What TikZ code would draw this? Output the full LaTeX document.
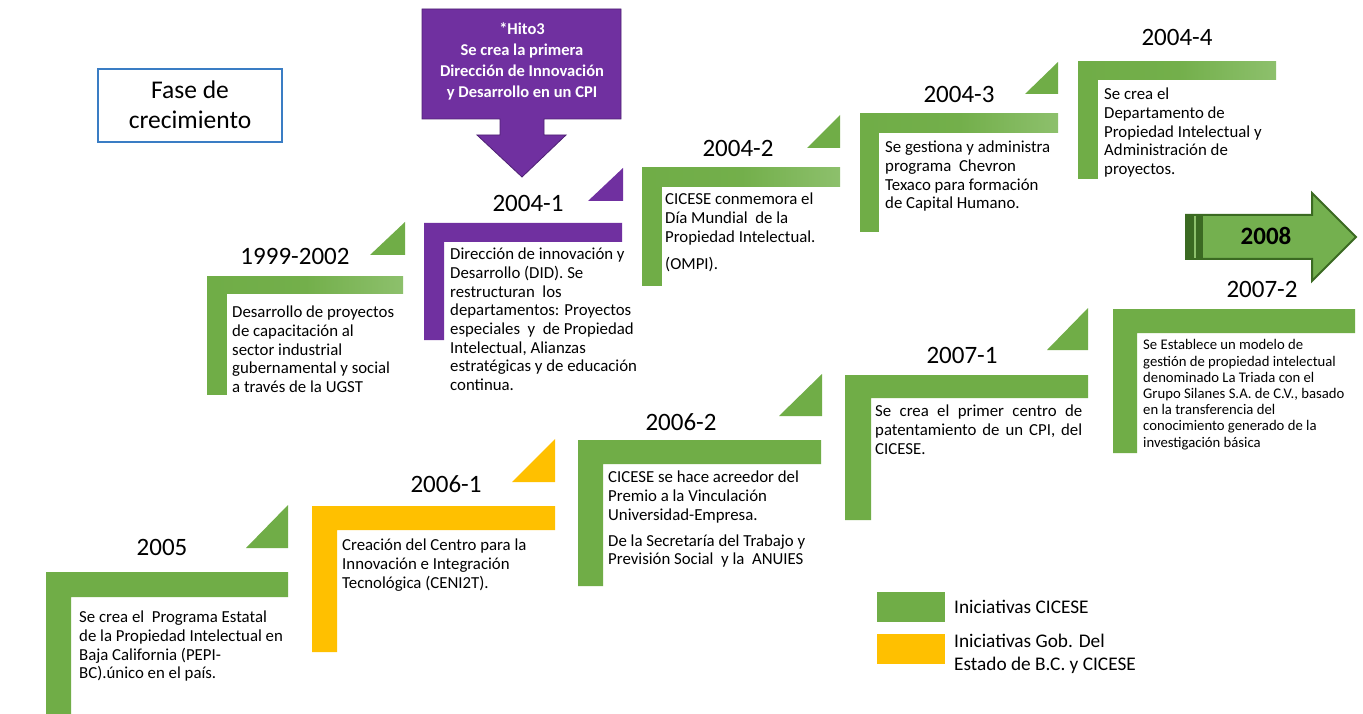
\documentclass[tikz,border=0pt]{standalone}
\usepackage{fontspec}
\setmainfont{Carlito}
\definecolor{grn}{HTML}{70AD47}
\definecolor{grnL}{HTML}{8DC06C}
\definecolor{grnD}{HTML}{3B6A22}
\definecolor{arrfill}{HTML}{74B04F}
\definecolor{purp}{HTML}{7030A0}
\definecolor{purpD}{HTML}{4E2173}
\definecolor{yel}{HTML}{FFC000}
\definecolor{fasebl}{HTML}{3A7DC4}
\newcommand\tstrut{\rule{0pt}{0.8em}}
\newcommand\lbshape[7]{\fill[#1] (#2,#3) -- (#4,#3) -- (#4,#5) -- (#6,#5) -- (#6,#7) -- (#2,#7) -- cycle;}
\newcommand\lbgrad[6]{%
  \fill[grn] (#1,#4) rectangle (#5,#6);
  \fill[left color=grn, right color=grnL, middle color=grn!90!grnL] (#1,#2) rectangle (#3,#4);}
\tikzset{
  yr/.style={font=\fontsize{25}{30}\selectfont, anchor=base, inner sep=0pt},
  body/.style={font=\fontsize{16.8}{18.7}\selectfont, anchor=north west, inner sep=0pt, align=left},
  smallbody/.style={font=\fontsize{14.7}{16.2}\selectfont, anchor=north west, inner sep=0pt, align=left},
  hito/.style={font=\fontsize{16.5}{21}\selectfont\bfseries, text=white, anchor=north, inner sep=0pt, align=center},
  legtxt/.style={font=\fontsize{19.3}{23}\selectfont, inner sep=0pt, align=left},
}
\begin{document}
\begin{tikzpicture}[x=1pt,y=-1pt]
\useasboundingbox (0,0) rectangle (1363,714);
\fill[white] (0,0) rectangle (1363,714);

% Fase de crecimiento
\draw[fasebl, line width=2.5pt] (98,69) rectangle (282,142);
\node[font=\fontsize{25.5}{30}\selectfont, anchor=north, inner sep=0pt, align=center] (fase) at (190,77.6) {\tstrut Fase de\\crecimiento};

% Hito callout
\fill[purp, draw=purpD, line width=0.8pt] (422,9) -- (621,9) -- (621,119) -- (544,119) -- (544,135) -- (566,135) -- (522,177) -- (477,135) -- (500,135) -- (500,119) -- (422,119) -- cycle;
\node[hito] (hito) at (522,20.8) {\tstrut *Hito3\\Se crea la primera\\Dirección de Innovación\\y Desarrollo en un CPI};

% triangles
\fill[grn] (370,255) -- (405,255) -- (405,222) -- cycle;
\fill[purp] (588,201) -- (623,201) -- (623,168) -- cycle;
\fill[grn] (807,148) -- (840,148) -- (840,115) -- cycle;
\fill[grn] (1025,94) -- (1058,94) -- (1058,62) -- cycle;
\fill[grn] (246,548) -- (288,548) -- (288,505) -- cycle;
\fill[yel] (512,482) -- (555,482) -- (555,439) -- cycle;
\fill[grn] (779,416) -- (822,416) -- (822,374) -- cycle;
\fill[grn] (1047,350) -- (1088,350) -- (1088,308) -- cycle;

% L shapes upper
\lbgrad{207}{276}{403}{293}{227}{395}
\lbshape{purp}{424}{223}{622}{242}{444}{340}
\lbgrad{642}{168}{840}{187}{662}{286}
\lbgrad{860}{114}{1058}{133}{879}{232}
\lbgrad{1078}{62}{1276}{80}{1098}{179}
% L shapes lower
\lbshape{grn}{46}{572}{288}{597}{71}{714}
\lbshape{yel}{312}{506}{555}{530}{337}{652}
\lbshape{grn}{578}{440}{821}{464}{603}{586}
\lbshape{grn}{845}{375}{1088}{398}{871}{520}
\lbshape{grn}{1113}{309}{1355}{333}{1137}{453}

% 2008 arrow
\fill[arrfill, draw=grnD, line width=2pt, line join=miter] (1186,215) -- (1312,215) -- (1312,193) -- (1356,237) -- (1312,281) -- (1312,259) -- (1186,259) -- cycle;
\fill[grnD] (1186,215) rectangle (1203,259);
\draw[grnL, line width=1.5pt] (1195,216) -- (1195,258);
\node[font=\fontsize{25}{30}\selectfont\bfseries, anchor=base, inner sep=0pt] (y2008) at (1266,245) {2008};

% year labels
\node[yr] (y1) at (295,265) {1999-2002};
\node[yr] (y2) at (528,212) {2004-1};
\node[yr] (y3) at (738,157) {2004-2};
\node[yr] (y4) at (959,103) {2004-3};
\node[yr] (y5) at (1177,46) {2004-4};
\node[yr] (y6) at (162,555) {2005};
\node[yr] (y7) at (446,492) {2006-1};
\node[yr] (y8) at (681,430) {2006-2};
\node[yr] (y9) at (962,363) {2007-1};
\node[yr] (y10) at (1262,298) {2007-2};

% body texts
\node[body] (t1) at (232,304) {\tstrut Desarrollo de proyectos\\de capacitación al\\sector industrial\\gubernamental y social\\a través de la UGST};
\node[body] (t2) at (450,246) {\tstrut Dirección de innovación y\\Desarrollo (DID). Se\\restructuran\ \ los\\departamentos: Proyectos\\especiales\ \ y\ \ de Propiedad\\Intelectual, Alianzas\\estratégicas y de educación\\continua.};
\node[body] (t3) at (665,191) {\tstrut CICESE conmemora el\\Día Mundial\ \ de la\\Propiedad Intelectual.\\[9pt](OMPI).};
\node[body] (t4) at (885,139) {\tstrut Se gestiona y administra\\programa\ \ Chevron\\Texaco para formación\\de Capital Humano.};
\node[body] (t5) at (1104,86) {\tstrut Se crea el\\Departamento de\\Propiedad Intelectual y\\Administración de\\proyectos.};
\node[body] (t6) at (79,609) {\tstrut Se crea el\ \ Programa Estatal\\de la Propiedad Intelectual en\\Baja California (PEPI-\\BC).único en el país.};
\node[body] (t7) at (342,537) {\tstrut Creación del Centro para la\\Innovación e Integración\\Tecnológica (CENI2T).};
\node[body] (t8) at (608,469) {\tstrut CICESE se hace acreedor del\\Premio a la Vinculación\\Universidad-Empresa.\\[7.3pt]De la Secretaría del Trabajo y\\Previsión Social\ \ y la\ \ ANUIES};
\node[body, text width=207pt, align=justify] (t9) at (875,403) {\hyphenpenalty=10000\exhyphenpenalty=10000\noindent\tstrut Se crea el primer centro de patentamiento de un CPI, del CICESE.};
\node[smallbody] (t10) at (1143,338) {\tstrut Se Establece un modelo de\\gestión de propiedad intelectual\\denominado La Triada con el\\Grupo Silanes S.A. de C.V., basado\\en la transferencia del\\conocimiento generado de la\\investigación básica};

% legend
\fill[grn] (877,592) rectangle (945,622);
\fill[yel] (877,634) rectangle (945,664);
\node[legtxt, anchor=base west] (l1) at (954,613) {Iniciativas CICESE};
\node[legtxt, anchor=north west] (l2) at (954,631.6) {\tstrut Iniciativas Gob. Del\\Estado de B.C. y CICESE};
\end{tikzpicture}
\end{document}
